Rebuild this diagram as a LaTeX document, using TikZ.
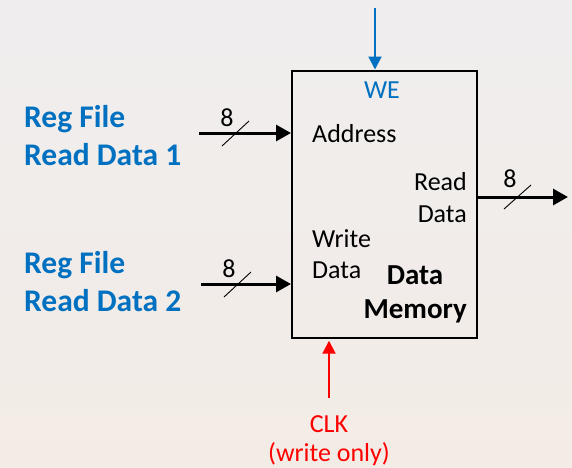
\documentclass[tikz,border=0pt]{standalone}
\usepackage{fontspec}
\setmainfont{Carlito}
\usetikzlibrary{arrows.meta}

\definecolor{sigblue}{HTML}{0070C0}
\definecolor{sigred}{HTML}{FF0000}
\definecolor{bgtop}{HTML}{EFEDEE}
\definecolor{bgbot}{HTML}{F3ECE6}

\tikzset{
  reg/.style={inner sep=0pt, font=\fontsize{26}{31}\selectfont},
  bld/.style={inner sep=0pt, font=\fontsize{29}{35}\selectfont\bfseries},
  src/.style={inner sep=0pt, text=sigblue, font=\fontsize{31.5}{38}\selectfont\bfseries},
  bus/.style={line width=3pt, -{Triangle[length=15pt,width=16pt]}},
  ctl/.style={line width=2pt, -{Triangle[length=13pt,width=13pt]}},
  busmark/.style={line width=0.9pt},
}

\begin{document}
\begin{tikzpicture}[x=1pt,y=-1pt]
  % page and soft backdrop
  \useasboundingbox (0,0) rectangle (572,467);
  \fill[top color=bgtop, bottom color=bgbot] (0,0) rectangle (572,467);

  % memory block
  \node[draw, line width=2.2pt, minimum width=185pt, minimum height=267pt,
        anchor=north west, inner sep=0pt] (mem) at (291,69.5) {};

  % port labels inside the block
  \node[reg, text=sigblue, anchor=base] (we) at (382,98) {WE};
  \node[reg, anchor=base west] (addr) at (312,142) {Address};
  \node[reg, anchor=base east] (rd1) at (467,190) {Read};
  \node[reg, anchor=base east] (rd2) at (467,222) {Data};
  \node[reg, anchor=base west] (wd1) at (312,247) {Write};
  \node[reg, anchor=base west] (wd2) at (312,278) {Data};
  \node[bld, anchor=base] (dm1) at (415,284) {Data};
  \node[bld, anchor=base east] (dm2) at (467,318) {Memory};

  % source labels
  \node[src, anchor=base west] (s1a) at (24,127) {Reg File};
  \node[src, anchor=base west] (s1b) at (24,165) {Read Data 1};
  \node[src, anchor=base west] (s2a) at (24,273) {Reg File};
  \node[src, anchor=base west] (s2b) at (24,311) {Read Data 2};

  % bus end points
  \coordinate (a0) at (199,133);
  \coordinate (w0) at (201,284);
  \coordinate (r1) at (568,197);
  \coordinate (we0) at (375,8);
  \coordinate (ck0) at (329,398);

  % address bus
  \draw[bus] (a0) -- (a0 -| mem.west);
  \draw[busmark] (222,146) -- (249,121);
  \node[reg, anchor=base] (n1) at (227,126) {8};

  % write data bus
  \draw[bus] (w0) -- (w0 -| mem.west);
  \draw[busmark] (224,297) -- (251,272);
  \node[reg, anchor=base] (n2) at (229,277) {8};

  % read data bus
  \draw[bus] (r1 -| mem.east) -- (r1);
  \draw[busmark] (504,209) -- (531,185);
  \node[reg, anchor=base] (n3) at (510,187) {8};

  % write enable and clock
  \draw[ctl, draw=sigblue, fill=sigblue] (we0) -- (we0 |- mem.north);
  \draw[ctl, draw=sigred, fill=sigred] (ck0) -- ([yshift=-2pt]ck0 |- mem.south);
  \node[reg, text=sigred, anchor=base] (clk1) at (329,432) {CLK};
  \node[reg, text=sigred, anchor=base] (clk2) at (329,461) {(write only)};
\end{tikzpicture}
\end{document}
